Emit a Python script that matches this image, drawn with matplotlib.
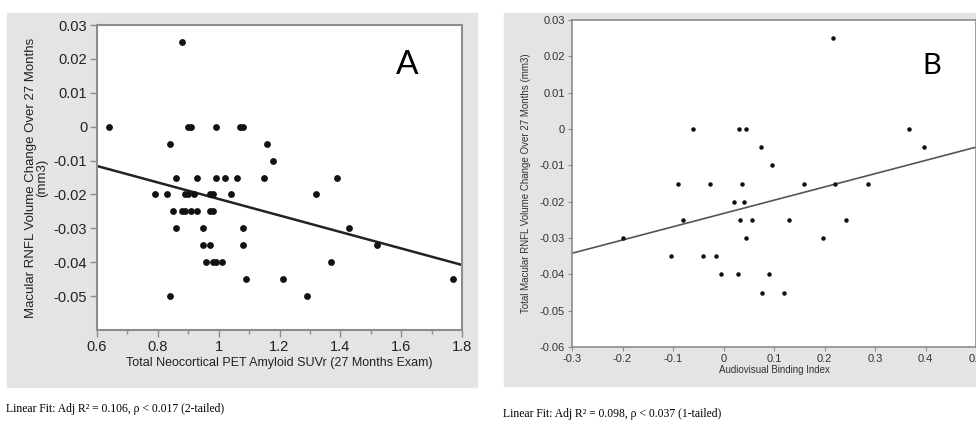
import numpy as np
import matplotlib
matplotlib.use("Agg")
import matplotlib.pyplot as plt
from matplotlib.patches import Rectangle
from matplotlib.ticker import MultipleLocator

# panel A: amyloid SUVr vs RNFL change
amyloid_suvr = [0.88,
                0.64, 0.90, 0.91, 0.99, 1.07, 1.08,
                0.84, 1.16,
                1.18,
                0.86, 0.93, 0.99, 1.02, 1.06, 1.15, 1.39,
                0.79, 0.83, 0.89, 0.90, 0.92, 0.97, 0.98, 1.04, 1.32,
                0.85, 0.88, 0.89, 0.91, 0.93, 0.97, 0.98,
                0.86, 0.95, 1.08, 1.43,
                0.95, 0.97, 1.08, 1.52,
                0.96, 0.98, 0.99, 1.01, 1.37,
                1.09, 1.21, 1.77,
                0.84, 1.29]
rnfl_a = ([0.025] + [0.0] * 6 + [-0.005] * 2 + [-0.01] + [-0.015] * 7 +
          [-0.02] * 9 + [-0.025] * 7 + [-0.03] * 4 + [-0.035] * 4 +
          [-0.04] * 5 + [-0.045] * 3 + [-0.05] * 2)
fit_a_x = [0.6, 1.8]
fit_a_y = [-0.0116, -0.0408]

# panel B: audiovisual binding index vs RNFL change
binding = [-0.20, -0.104, -0.09, -0.08, -0.06, -0.04, -0.026, -0.015, -0.005,
           0.020, 0.028, 0.031, 0.045, 0.036, 0.040, 0.033, 0.045, 0.057,
           0.075, 0.077, 0.090, 0.097, 0.120, 0.130, 0.160, 0.198, 0.216,
           0.220, 0.242, 0.287, 0.367, 0.397]
rnfl_b = [-0.030, -0.035, -0.015, -0.025, 0.0, -0.035, -0.015, -0.035, -0.040,
          -0.020, -0.040, 0.0, 0.0, -0.015, -0.020, -0.025, -0.030, -0.025,
          -0.005, -0.045, -0.040, -0.010, -0.045, -0.025, -0.015, -0.030, 0.025,
          -0.015, -0.025, -0.015, 0.0, -0.005]
fit_b_x = [-0.3, 0.5]
fit_b_y = [-0.0342, -0.0050]

W, H = 976, 423
fig = plt.figure(figsize=(W / 100, H / 100), dpi=100)
plt.rcParams['font.family'] = ['Liberation Sans', 'DejaVu Sans']

def px(x0, y0, x1, y1):
    return [x0 / W, 1 - y1 / H, (x1 - x0) / W, (y1 - y0) / H]

panel_gray = '#e4e4e4'
frame = '#8c8c8c'
for x0, x1, y1 in [(7, 477, 387), (504, 980, 386)]:
    fig.patches.append(Rectangle((x0 / W, 1 - y1 / H), (x1 - x0) / W, (y1 - 13) / H,
                                 transform=fig.transFigure, color=panel_gray, zorder=-5))

# ---- A ----
ax = fig.add_axes(px(97, 25, 462, 330))
ax.scatter(amyloid_suvr, rnfl_a, s=15, color='#111111', zorder=3)
ax.plot(fit_a_x, fit_a_y, color='#222222', lw=1.8)
ax.set_xlim(0.6, 1.8)
ax.set_ylim(-0.06, 0.03)
ax.set_yticks(np.arange(-0.05, 0.031, 0.01))
ax.set_yticklabels(['-0.05', '-0.04', '-0.03', '-0.02', '-0.01', '0', '0.01', '0.02', '0.03'])
ax.set_xticks([0.6, 0.8, 1.0, 1.2, 1.4, 1.6, 1.8])
ax.set_xticklabels(['0.6', '0.8', '1', '1.2', '1.4', '1.6', '1.8'])
ax.xaxis.set_minor_locator(MultipleLocator(0.1))
ax.tick_params(which='major', length=5, width=1, color=frame, labelsize=10.5,
               labelcolor='#222222', pad=2)
ax.tick_params(which='minor', length=3, width=1, color=frame)
for s in ax.spines.values():
    s.set_color(frame)
    s.set_linewidth(1.5)
ax.set_xlabel('Total Neocortical PET Amyloid SUVr (27 Months Exam)', fontsize=9,
              color='#222222', labelpad=2)
ax.set_ylabel('Macular RNFL Volume Change Over 27 Months\n(mm3)', fontsize=9.5,
              color='#222222', labelpad=4, linespacing=0.95)
ax.text(0.85, 0.87, 'A', transform=ax.transAxes, fontsize=24, ha='center', va='center',
        family=['Lato', 'DejaVu Sans'])
fig.text(6 / W, 1 - 409 / H, 'Linear Fit: Adj R² = 0.106, ρ < 0.017 (2-tailed)',
         family=['Liberation Serif', 'DejaVu Serif'], fontsize=8.4, va='center')

# ---- B ----
bx = fig.add_axes(px(572, 20, 976, 347))
bx.scatter(binding, rnfl_b, s=5, color='#111111', zorder=3)
bx.plot(fit_b_x, fit_b_y, color='#555555', lw=1.2)
bx.set_xlim(-0.3, 0.5)
bx.set_ylim(-0.06, 0.03)
bx.set_yticks(np.arange(-0.06, 0.031, 0.01))
bx.set_yticklabels(['-0.06', '-0.05', '-0.04', '-0.03', '-0.02', '-0.01', '0', '0.01', '0.02', '0.03'])
bx.set_xticks(np.arange(-0.3, 0.51, 0.1))
bx.set_xticklabels(['-0.3', '-0.2', '-0.1', '0', '0.1', '0.2', '0.3', '0.4', '0.5'])
bx.tick_params(length=3, width=0.8, color=frame, labelsize=8, labelcolor='#333333', pad=2)
for s in bx.spines.values():
    s.set_color(frame)
    s.set_linewidth(1.2)
bx.set_xlabel('Audiovisual Binding Index', fontsize=7, color='#333333', labelpad=1)
bx.set_ylabel('Total Macular RNFL Volume Change Over 27 Months (mm3)', fontsize=7,
              color='#333333', labelpad=6)
bx.text(0.89, 0.86, 'B', transform=bx.transAxes, fontsize=21, ha='center', va='center',
        family=['Lato', 'DejaVu Sans'])
fig.text(503 / W, 1 - 414 / H, 'Linear Fit: Adj R² = 0.098, ρ < 0.037 (1-tailed)',
         family=['Liberation Serif', 'DejaVu Serif'], fontsize=8.4, va='center')

fig.savefig('out.png', dpi=100)
